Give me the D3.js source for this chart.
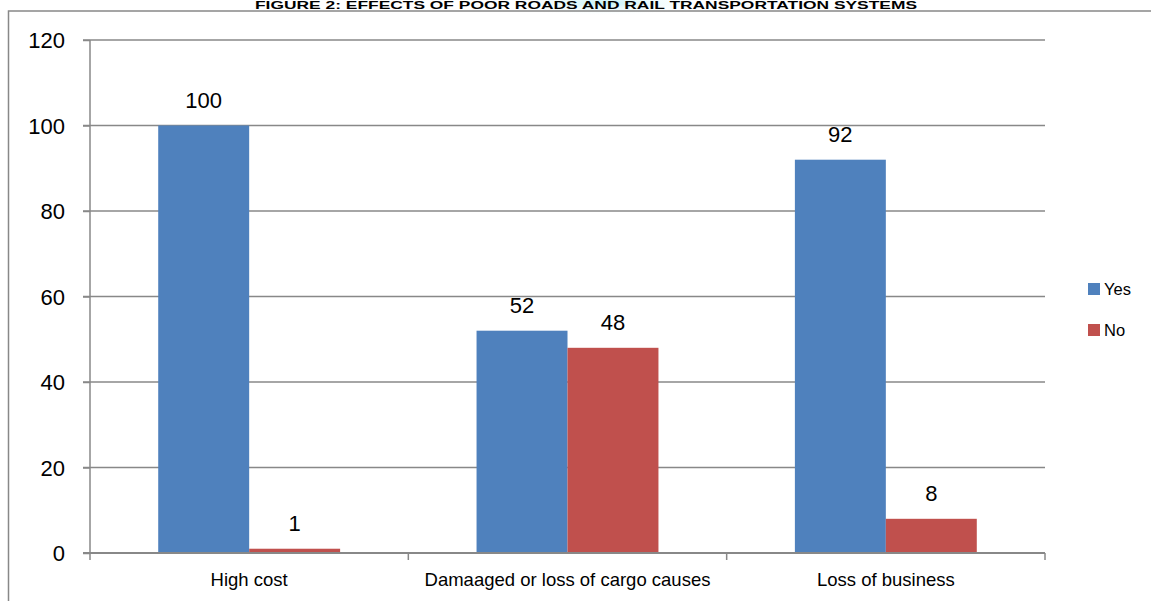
<!DOCTYPE html>
<html>
<head>
<meta charset="utf-8">
<script src="https://cdn.jsdelivr.net/npm/d3@7"></script>
<style>
  body { margin: 0; background: #fff; }
  svg { display: block; font-family: "Liberation Sans", Arial, sans-serif; }
</style>
</head>
<body>
<div id="chart"></div>
<script>
// data
var categories = ["High cost", "Damaaged or loss of cargo causes", "Loss of business"];
var seriesNames = ["Yes", "No"];
var yesValues = [100, 52, 92];
var noValues = [1, 48, 8];
var yTicks = [0, 20, 40, 60, 80, 100, 120];
var colors = ["#4f81bd", "#c0504d"];

var W = 1151, H = 601;
var margin = {top: 40, right: 106, bottom: 48, left: 90},
    width = W - margin.left - margin.right,
    height = H - margin.top - margin.bottom;

var svg = d3.select("#chart").append("svg")
    .attr("width", W)
    .attr("height", H);

// faint highlight behind the title
var defs = svg.append("defs");
var grad = defs.append("radialGradient").attr("id", "glow");
grad.append("stop").attr("offset", "0%").attr("stop-color", "#c4f2f7");
grad.append("stop").attr("offset", "100%").attr("stop-color", "#ffffff").attr("stop-opacity", 0);
svg.append("ellipse")
    .attr("cx", 605).attr("cy", 3).attr("rx", 105).attr("ry", 13)
    .attr("fill", "url(#glow)");

svg.append("text")
    .attr("x", 255).attr("y", 9)
    .attr("textLength", 662)
    .attr("lengthAdjust", "spacingAndGlyphs")
    .style("font-weight", "bold")
    .style("font-size", "11px")
    .text("FIGURE 2: EFFECTS OF POOR ROADS AND RAIL TRANSPORTATION SYSTEMS");

// outer chart border
svg.append("rect")
    .attr("x", 8.5).attr("y", 11)
    .attr("width", W).attr("height", H)
    .attr("fill", "none")
    .attr("stroke", "#888")
    .attr("stroke-width", 1.5);

var g = svg.append("g")
    .attr("transform", "translate(" + margin.left + "," + margin.top + ")");

var x = d3.scaleBand()
    .domain(categories)
    .range([0, width]);

var x1 = d3.scaleBand()
    .domain(seriesNames)
    .range([0, x.bandwidth()])
    .paddingOuter(0.75)
    .paddingInner(0);

var y = d3.scaleLinear()
    .domain([0, 120])
    .range([height, 0]);

// gridlines
g.append("g")
  .selectAll("line")
  .data(yTicks)
  .enter().append("line")
    .attr("x1", -7).attr("x2", width)
    .attr("y1", function(d) { return y(d); })
    .attr("y2", function(d) { return y(d); })
    .attr("stroke", "#888")
    .attr("stroke-width", 1.5);

// y axis
var yAxis = g.append("g")
    .call(d3.axisLeft(y).tickValues(yTicks).tickSize(7).tickPadding(18));
yAxis.select(".domain").remove();
yAxis.selectAll("line").attr("stroke", "#888").attr("stroke-width", 1.5);
yAxis.selectAll("text")
    .attr("dy", "0.36em")
    .style("font-family", "'Liberation Sans', Arial, sans-serif")
    .style("font-size", "22px")
    .attr("fill", "#000");

g.append("line")
    .attr("x1", 0).attr("x2", 0)
    .attr("y1", 0).attr("y2", height)
    .attr("stroke", "#888").attr("stroke-width", 1.5);

// bars
var rows = categories.map(function(c, i) {
  return {cat: c, values: [yesValues[i], noValues[i]]};
});

var groups = g.append("g")
  .selectAll("g")
  .data(rows)
  .enter().append("g")
    .attr("transform", function(d) { return "translate(" + x(d.cat) + ",0)"; });

groups.selectAll("rect")
  .data(function(d) { return d.values.map(function(v, j) { return {key: seriesNames[j], value: v, j: j}; }); })
  .enter().append("rect")
    .attr("x", function(d) { return x1(d.key); })
    .attr("y", function(d) { return y(d.value); })
    .attr("width", x1.bandwidth())
    .attr("height", function(d) { return height - y(d.value); })
    .attr("fill", function(d) { return colors[d.j]; });

groups.selectAll("text.lbl")
  .data(function(d) { return d.values.map(function(v, j) { return {key: seriesNames[j], value: v}; }); })
  .enter().append("text")
    .attr("class", "lbl")
    .attr("x", function(d) { return x1(d.key) + x1.bandwidth() / 2; })
    .attr("y", function(d) { return y(d.value) - 18; })
    .attr("text-anchor", "middle")
    .style("font-size", "22px")
    .text(function(d) { return d.value; });

// x axis
var xAxis = g.append("g")
    .attr("transform", "translate(0," + height + ")")
    .call(d3.axisBottom(x).tickSize(0));
xAxis.select(".domain").remove();
xAxis.selectAll("text")
    .attr("y", 33)
    .attr("dy", "0")
    .style("font-family", "'Liberation Sans', Arial, sans-serif")
    .style("font-size", "18.5px")
    .attr("fill", "#000");

g.append("line")
    .attr("x1", -7).attr("x2", width)
    .attr("y1", height).attr("y2", height)
    .attr("stroke", "#888").attr("stroke-width", 2);

g.append("g")
  .selectAll("line")
  .data(categories.map(function(c) { return x(c); }).concat([width]))
  .enter().append("line")
    .attr("x1", function(d) { return d; }).attr("x2", function(d) { return d; })
    .attr("y1", height).attr("y2", height + 7)
    .attr("stroke", "#888").attr("stroke-width", 1.5);

// legend
var legend = svg.append("g")
    .attr("transform", "translate(1088,283)");
seriesNames.forEach(function(s, i) {
  var row = legend.append("g").attr("transform", "translate(0," + i * 41 + ")");
  row.append("rect").attr("width", 12).attr("height", 12).attr("fill", colors[i]);
  row.append("text").attr("x", 16).attr("y", 12)
    .style("font-size", "16.5px")
    .text(s);
});
</script>
</body>
</html>
